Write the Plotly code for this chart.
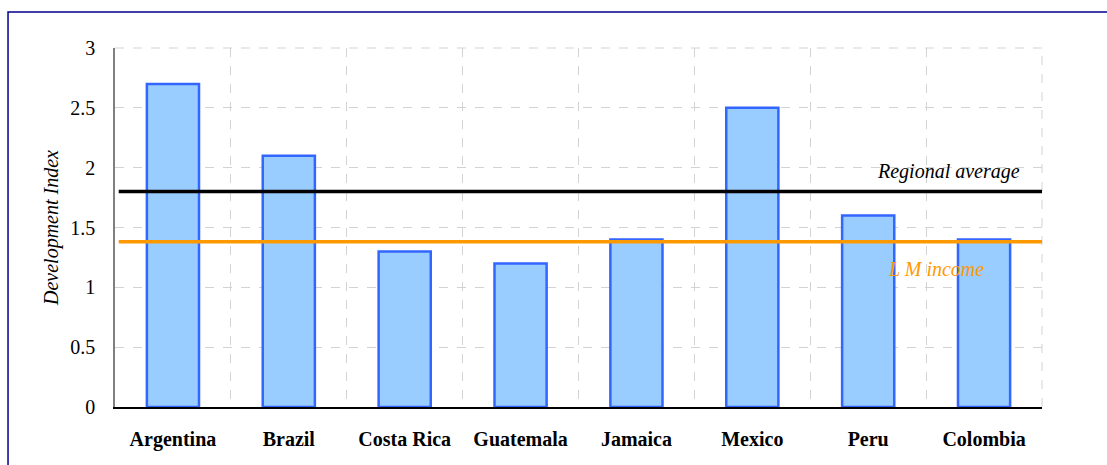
import plotly.graph_objects as go

# Development index by country
countries = ["Argentina", "Brazil", "Costa Rica", "Guatemala", "Jamaica", "Mexico", "Peru", "Colombia"]
index_values = [2.7, 2.1, 1.3, 1.2, 1.4, 2.5, 1.6, 1.4]

# Reference levels
regional_average = 1.8
lm_income = 1.38

y_ticks = [0, 0.5, 1, 1.5, 2, 2.5, 3]
y_tick_text = ["0", "0.5", "1", "1.5", "2", "2.5", "3"]

SERIF = "Liberation Serif"

fig = go.Figure()

fig.add_trace(go.Bar(
    x=countries,
    y=index_values,
    width=0.45,
    marker=dict(color="#99ccff", line=dict(color="#3366ff", width=2.5)),
    hoverinfo="x+y",
))

# Horizontal reference lines across the plot
fig.add_shape(type="line", xref="paper", yref="y", x0=0.004, x1=1,
              y0=regional_average, y1=regional_average,
              line=dict(color="#000000", width=3.5), layer="above")
fig.add_shape(type="line", xref="paper", yref="y", x0=0.004, x1=1,
              y0=lm_income, y1=lm_income,
              line=dict(color="#ff9900", width=3.5), layer="above")

fig.add_annotation(text="Regional average", xref="paper", yref="y",
                   x=0.978, y=regional_average, xanchor="right", yanchor="bottom",
                   yshift=7, showarrow=False,
                   font=dict(family=SERIF, size=20, color="#000000", style="italic"))
fig.add_annotation(text="L M income", xref="paper", yref="y",
                   x=0.886, y=lm_income, xanchor="center", yanchor="top",
                   yshift=-14, showarrow=False,
                   font=dict(family=SERIF, size=20, color="#ff9900", style="italic"))

# Outer frame around the whole chart
fig.add_shape(type="rect", xref="paper", yref="paper",
              x0=-0.1154, x1=1.08, y0=-0.18, y1=1.1003,
              line=dict(color="#00008b", width=1.5), fillcolor="rgba(0,0,0,0)",
              layer="below")

fig.update_layout(
    width=1107, height=465,
    margin=dict(l=115, r=65, t=48, b=58),
    paper_bgcolor="white", plot_bgcolor="white",
    showlegend=False,
    font=dict(family=SERIF, color="#000000"),
    xaxis=dict(
        type="category",
        tickson="boundaries",
        automargin=False,
        showgrid=True, gridcolor="#d3d3d3", griddash="dash", gridwidth=1,
        showline=True, linecolor="#000000", linewidth=1.5,
        ticks="", ticklabelstandoff=13,
        tickfont=dict(family=SERIF, size=20, color="#000000", weight="bold"),
        mirror=False,
    ),
    yaxis=dict(
        range=[0, 3],
        automargin=False,
        tickvals=y_ticks, ticktext=y_tick_text,
        showgrid=True, gridcolor="#d3d3d3", griddash="dash", gridwidth=1,
        zeroline=False,
        showline=True, linecolor="#808080", linewidth=1.5,
        ticks="", ticklabelstandoff=14,
        tickfont=dict(family=SERIF, size=20, color="#000000"),
        title=dict(text="Development Index", standoff=6,
                   font=dict(family=SERIF, size=20, color="#000000", style="italic")),
    ),
)

# Dashed border on the top and right edges of the plot area
fig.add_shape(type="line", xref="paper", yref="paper", x0=0, x1=1, y0=1, y1=1,
              line=dict(color="#d3d3d3", width=1, dash="dash"), layer="below")
fig.add_shape(type="line", xref="paper", yref="paper", x0=1, x1=1, y0=0, y1=1,
              line=dict(color="#d3d3d3", width=1, dash="dash"), layer="below")

fig.write_html("out.html")
